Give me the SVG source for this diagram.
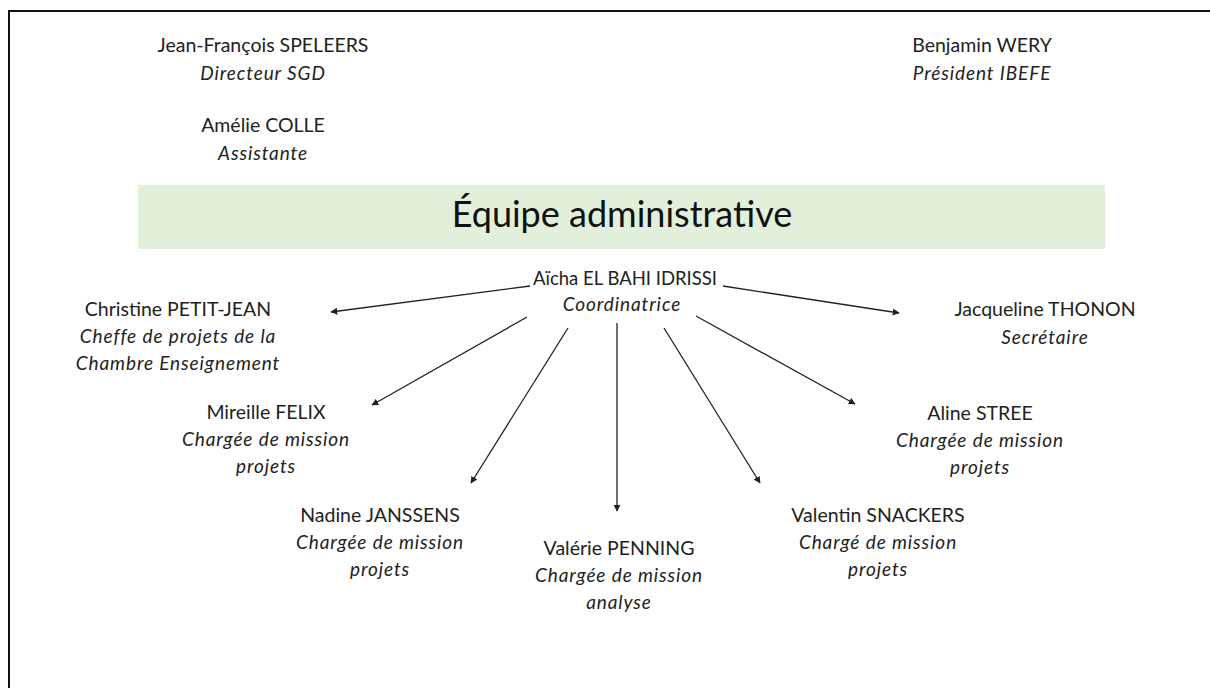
<svg xmlns="http://www.w3.org/2000/svg" width="1210" height="688" viewBox="0 0 1210 688">
<style>
text{font-family:Lato,"Open Sans","Liberation Sans",sans-serif;font-size:19.5px;fill:#222;text-anchor:middle}
.r{font-style:italic;font-size:19px;letter-spacing:0.9px}
.t{font-size:36px;fill:#111}
.c{stroke:#222;stroke-width:1.3;fill:none;marker-end:url(#ah)}
</style>
<defs>
<marker id="ah" viewBox="0 0 10 10" refX="9" refY="5" markerWidth="7" markerHeight="7" markerUnits="userSpaceOnUse" orient="auto"><path d="M0,0L10,5L0,10z" fill="#222"/></marker>
</defs>
<rect x="0" y="0" width="1210" height="688" fill="#fff"/>
<rect x="9" y="11" width="1230" height="700" fill="none" stroke="#111" stroke-width="2"/>
<g id="speleers"><text x="263" y="52">Jean-François SPELEERS</text><text class="r" x="263" y="80">Directeur SGD</text></g>
<g id="colle"><text x="263" y="132">Amélie COLLE</text><text class="r" x="263" y="160">Assistante</text></g>
<g id="wery"><text x="982" y="52">Benjamin WERY</text><text class="r" x="982" y="80">Président IBEFE</text></g>
<g id="banner"><rect x="138" y="185" width="967" height="64" fill="#E2EFDA"/><text class="t" x="622" y="227">Équipe administrative</text></g>
<g id="elbahi"><text x="625" y="285" style="font-size:18.5px">Aïcha EL BAHI IDRISSI</text><text class="r" x="622" y="311">Coordinatrice</text></g>
<g id="petitjean"><text x="178" y="316">Christine PETIT-JEAN</text><text class="r" x="178" y="343">Cheffe de projets de la</text><text class="r" x="178" y="370">Chambre Enseignement</text></g>
<g id="thonon"><text x="1045" y="316">Jacqueline THONON</text><text class="r" x="1045" y="344">Secrétaire</text></g>
<g id="felix"><text x="266" y="419">Mireille FELIX</text><text class="r" x="266" y="446">Chargée de mission</text><text class="r" x="266" y="473">projets</text></g>
<g id="stree"><text x="980" y="420">Aline STREE</text><text class="r" x="980" y="447">Chargée de mission</text><text class="r" x="980" y="474">projets</text></g>
<g id="janssens"><text x="380" y="522">Nadine JANSSENS</text><text class="r" x="380" y="549">Chargée de mission</text><text class="r" x="380" y="576">projets</text></g>
<g id="penning"><text x="619" y="555">Valérie PENNING</text><text class="r" x="619" y="582">Chargée de mission</text><text class="r" x="619" y="609">analyse</text></g>
<g id="snackers"><text x="878" y="522">Valentin SNACKERS</text><text class="r" x="878" y="549">Chargé de mission</text><text class="r" x="878" y="576">projets</text></g>
<g id="connectors">
<line class="c" x1="530" y1="286" x2="331" y2="312"/>
<line class="c" x1="723" y1="286" x2="899" y2="313"/>
<line class="c" x1="527" y1="317" x2="372" y2="405"/>
<line class="c" x1="568" y1="328" x2="471" y2="483"/>
<line class="c" x1="617" y1="323" x2="617" y2="511"/>
<line class="c" x1="664" y1="328" x2="760" y2="483"/>
<line class="c" x1="696" y1="316" x2="855" y2="404"/>
</g>
</svg>
